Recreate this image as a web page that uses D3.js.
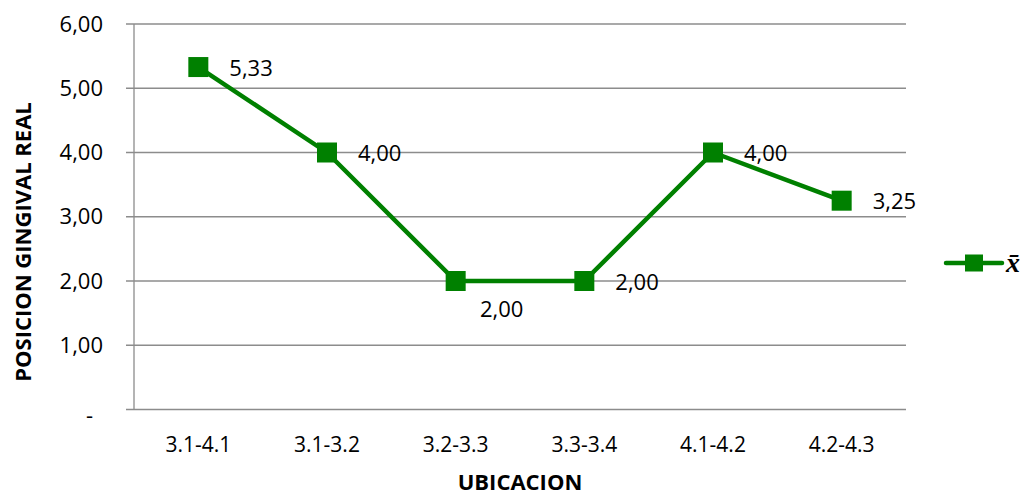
<!DOCTYPE html>
<html><head><meta charset="utf-8">
<script src="https://cdn.jsdelivr.net/npm/d3@7"></script>
<style>body{margin:0;background:#fff}svg{display:block}text{font-family:"Open Sans",sans-serif;fill:#000}</style>
</head><body><svg id="c" width="1029" height="495"></svg>
<script>
const categories = ["3.1-4.1","3.1-3.2","3.2-3.3","3.3-3.4","4.1-4.2","4.2-4.3"];
const values = [5.33, 4.00, 2.00, 2.00, 4.00, 3.25];
const yTicks = [0,1,2,3,4,5,6];
const seriesName = "x\u0304";
const xTitle = "UBICACION";
const yTitle = "POSICION GINGIVAL REAL";
// label placement: "right" or "below"
const labelPos = ["right","right","below","right","right","right"];

const svg = d3.select("#c");
const L = 134, R = 906, T = 24, B = 409.5;
const x = d3.scaleBand().domain(categories).range([L, R]);
const y = d3.scaleLinear().domain([0, 6]).range([B, T]);
const green = "#008000", grid = "#8c8c8c";
const fmt = v => v === 0 ? "-" : d3.format(".2f")(v).replace(".", ",");

// gridlines
svg.append("g").selectAll("line").data(yTicks).join("line")
  .attr("x1", L - 8).attr("x2", R).attr("y1", d => y(d)).attr("y2", d => y(d))
  .attr("stroke", grid).attr("stroke-width", 1.3);
// y axis line
svg.append("line").attr("x1", L).attr("x2", L).attr("y1", T).attr("y2", B)
  .attr("stroke", grid).attr("stroke-width", 1.3);
// y tick labels
svg.append("g").selectAll("text").data(yTicks).join("text")
  .attr("x", d => d === 0 ? 93 : 103).attr("y", d => y(d))
  .attr("dy", d => d === 0 ? "0.6em" : "0.35em")
  .attr("text-anchor", "end").attr("font-size", 22).text(fmt);
// x category labels
svg.append("g").selectAll("text").data(categories).join("text")
  .attr("x", d => x(d) + x.bandwidth() / 2).attr("y", 452)
  .attr("text-anchor", "middle").attr("font-size", 21).text(d => d);

const pts = categories.map((c, i) => ({c, v: values[i], p: labelPos[i]}));
const cx = d => x(d.c) + x.bandwidth() / 2;
svg.append("path").datum(pts)
  .attr("d", d3.line().x(cx).y(d => y(d.v)))
  .attr("fill", "none").attr("stroke", green).attr("stroke-width", 4.5).attr("stroke-linejoin", "round");
svg.append("g").selectAll("rect").data(pts).join("rect")
  .attr("x", d => cx(d) - 10).attr("y", d => y(d.v) - 10)
  .attr("width", 20).attr("height", 20).attr("fill", green);
svg.append("g").selectAll("text").data(pts).join("text")
  .attr("x", d => d.p === "below" ? cx(d) + 46 : cx(d) + 31)
  .attr("y", d => d.p === "below" ? y(d.v) + 28 : y(d.v) + 1)
  .attr("dy", "0.35em")
  .attr("text-anchor", d => d.p === "below" ? "middle" : "start")
  .attr("font-size", 22).text(d => fmt(d.v));

// axis titles
svg.append("text").attr("x", 520).attr("y", 490).attr("text-anchor", "middle")
  .attr("font-size", 22).attr("font-weight", "bold").text(xTitle);
svg.append("text").attr("transform", "translate(31,242) rotate(-90)").attr("text-anchor", "middle")
  .attr("font-size", 22).attr("font-weight", "bold").text(yTitle);

// legend
const lg = svg.append("g");
lg.append("line").attr("x1", 946).attr("x2", 1002).attr("y1", 263).attr("y2", 263)
  .attr("stroke", green).attr("stroke-width", 4.5).attr("stroke-linecap", "round");
lg.append("rect").attr("x", 965).attr("y", 254.5).attr("width", 18).attr("height", 17).attr("fill", green);
lg.append("text").attr("x", 1006).attr("y", 272)
  .style("font-family", "'Liberation Serif',serif").attr("font-style", "italic").attr("font-weight", "bold")
  .attr("font-size", 28).text(seriesName);
</script></body></html>
